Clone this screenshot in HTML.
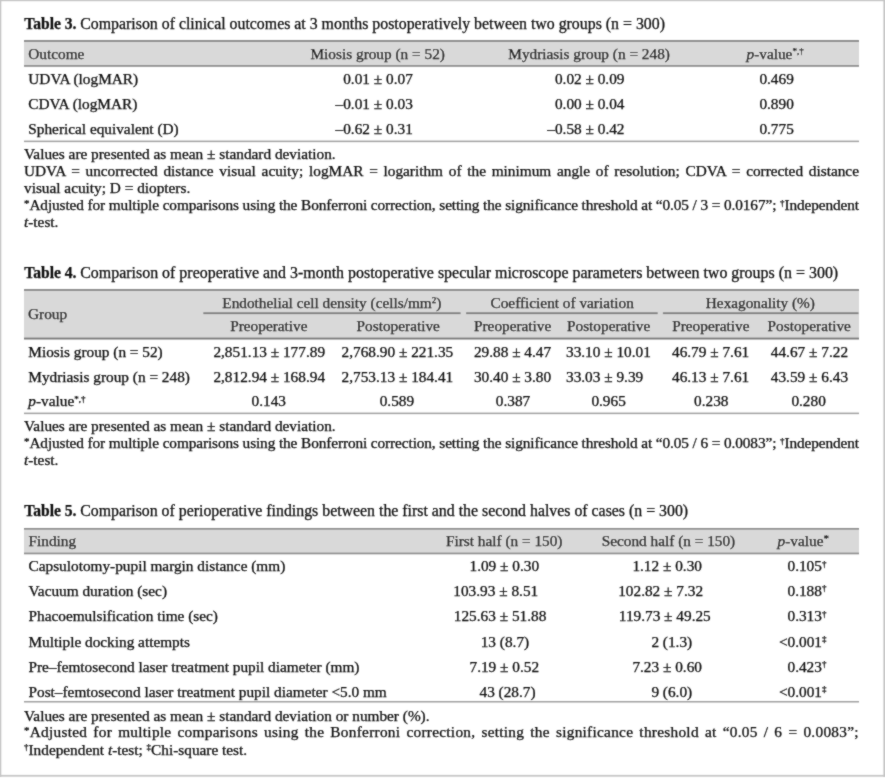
<!DOCTYPE html>
<html><head><meta charset="utf-8"><title>Tables</title>
<style>
html,body{margin:0;padding:0;background:#fff;}
body{width:885px;height:778px;overflow:hidden;}
svg{display:block;}
text{font-family:"Liberation Serif",serif;font-size:15.3px;fill:#0a0a0a;stroke:#0a0a0a;stroke-width:0.25px;}
#w{will-change:transform;}
</style></head><body>
<div id="w"><svg width="885" height="778" viewBox="0 0 885 778">
<defs><filter id="f" x="0" y="0" width="885" height="778" filterUnits="userSpaceOnUse"><feConvolveMatrix order="3" kernelMatrix="1 2 1 2 16 2 1 2 1" edgeMode="duplicate"/></filter></defs>
<g filter="url(#f)">
<rect x="0" y="0" width="885" height="1.2" fill="#c6c6c6"/>
<rect x="0" y="0" width="1.3" height="777" fill="#c6c6c6"/>
<rect x="883.4" y="0" width="1.6" height="777" fill="#c6c6c6"/>
<rect x="0" y="774.9" width="885" height="1.8" fill="#c6c6c6"/>
<text x="24.2" y="28.6" style="font-size:17.2px" textLength="52.3" lengthAdjust="spacingAndGlyphs"><tspan font-weight="bold">Table 3.</tspan></text>
<text x="80.2" y="28.6" style="font-size:17.2px" textLength="584.8" lengthAdjust="spacingAndGlyphs"><tspan>Comparison of clinical outcomes at 3 months postoperatively between two groups (n = 300)</tspan></text>
<rect x="24" y="42" width="835" height="23" fill="#d9d9d9"/>
<rect x="24" y="40" width="835" height="2" fill="#8f8f8f"/>
<rect x="24" y="65" width="835" height="1.8" fill="#8f8f8f"/>
<text x="28.3" y="58.7"><tspan>Outcome</tspan></text>
<text x="310.5" y="58.7"><tspan>Miosis group (n = 52)</tspan></text>
<text x="508.3" y="58.7"><tspan>Mydriasis group (n = 248)</tspan></text>
<text x="746.5" y="58.7"><tspan font-style="italic">p</tspan><tspan>-value</tspan><tspan font-size="9" dy="-4.5">*,†</tspan></text>
<text x="28.3" y="84.1"><tspan>UDVA (logMAR)</tspan></text>
<text x="412.8" y="84.1" text-anchor="end"><tspan>0.01 ± 0.07</tspan></text>
<text x="624.5" y="84.1" text-anchor="end"><tspan>0.02 ± 0.09</tspan></text>
<text x="759.4" y="84.1"><tspan>0.469</tspan></text>
<text x="28.3" y="108.9"><tspan>CDVA (logMAR)</tspan></text>
<text x="412.8" y="108.9" text-anchor="end"><tspan>–0.01 ± 0.03</tspan></text>
<text x="624.5" y="108.9" text-anchor="end"><tspan>0.00 ± 0.04</tspan></text>
<text x="759.4" y="108.9"><tspan>0.890</tspan></text>
<text x="28.3" y="133.6"><tspan>Spherical equivalent (D)</tspan></text>
<text x="412.8" y="133.6" text-anchor="end"><tspan>–0.62 ± 0.31</tspan></text>
<text x="624.5" y="133.6" text-anchor="end"><tspan>–0.58 ± 0.42</tspan></text>
<text x="759.4" y="133.6"><tspan>0.775</tspan></text>
<rect x="24" y="140.6" width="835" height="1.5" fill="#a0a0a0"/>
<text x="24" y="158.9"><tspan>Values are presented as mean ± standard deviation.</tspan></text>
<text x="24" y="175.6" word-spacing="1.93px"><tspan>UDVA = uncorrected distance visual acuity; logMAR = logarithm of the minimum angle of resolution; CDVA = corrected distance</tspan></text>
<text x="24" y="193.2"><tspan>visual acuity; D = diopters.</tspan></text>
<text x="24" y="210.4" textLength="835" lengthAdjust="spacing"><tspan font-size="11" dy="-3.5">*</tspan><tspan dy="3.5">Adjusted for multiple comparisons using the Bonferroni correction, setting the significance threshold at “0.05 / 3 = 0.0167”; </tspan><tspan font-size="9" dy="-4.5">†</tspan><tspan dy="4.5">Independent</tspan></text>
<text x="24" y="227.4"><tspan font-style="italic">t</tspan><tspan>-test.</tspan></text>
<text x="24.2" y="277.7" style="font-size:17.2px" textLength="52.3" lengthAdjust="spacingAndGlyphs"><tspan font-weight="bold">Table 4.</tspan></text>
<text x="80.2" y="277.7" style="font-size:17.2px" textLength="758.0" lengthAdjust="spacingAndGlyphs"><tspan>Comparison of preoperative and 3-month postoperative specular microscope parameters between two groups (n = 300)</tspan></text>
<rect x="24" y="291" width="835" height="46.5" fill="#d9d9d9"/>
<rect x="24" y="289" width="835" height="2" fill="#8f8f8f"/>
<rect x="24" y="337.5" width="835" height="2" fill="#7a7a7a"/>
<rect x="203.3" y="312.3" width="257.3" height="1.8" fill="#7a7a7a"/>
<rect x="466.1" y="312.3" width="191.60000000000002" height="1.8" fill="#7a7a7a"/>
<rect x="662.9" y="312.3" width="195.60000000000002" height="1.8" fill="#7a7a7a"/>
<text x="28" y="319"><tspan>Group</tspan></text>
<text x="222.3" y="307.6"><tspan>Endothelial cell density (cells/mm</tspan><tspan font-size="9" dy="-4.5">2</tspan><tspan dy="4.5">)</tspan></text>
<text x="490.5" y="307.6"><tspan>Coefficient of variation</tspan></text>
<text x="705.8" y="307.6"><tspan>Hexagonality (%)</tspan></text>
<text x="230.2" y="331.3"><tspan>Preoperative</tspan></text>
<text x="474.0" y="331.3"><tspan>Preoperative</tspan></text>
<text x="672.2" y="331.3"><tspan>Preoperative</tspan></text>
<text x="356.6" y="331.3"><tspan>Postoperative</tspan></text>
<text x="567.0" y="331.3"><tspan>Postoperative</tspan></text>
<text x="767.6" y="331.3"><tspan>Postoperative</tspan></text>
<text x="28.3" y="356.5"><tspan>Miosis group (n = 52)</tspan></text>
<text x="28.3" y="381.6"><tspan>Mydriasis group (n = 248)</tspan></text>
<text x="28.3" y="406.4"><tspan font-style="italic">p</tspan><tspan>-value</tspan><tspan font-size="9" dy="-4.5">*,†</tspan></text>
<text x="213.4" y="356.5"><tspan>2,851.13 ± 177.89</tspan></text>
<text x="341.6" y="356.5"><tspan>2,768.90 ± 221.35</tspan></text>
<text x="473.9" y="356.5"><tspan>29.88 ± 4.47</tspan></text>
<text x="566.0" y="356.5"><tspan>33.10 ± 10.01</tspan></text>
<text x="672.0" y="356.5"><tspan>46.79 ± 7.61</tspan></text>
<text x="770.8" y="356.5"><tspan>44.67 ± 7.22</tspan></text>
<text x="213.4" y="381.6"><tspan>2,812.94 ± 168.94</tspan></text>
<text x="341.6" y="381.6"><tspan>2,753.13 ± 184.41</tspan></text>
<text x="473.9" y="381.6"><tspan>30.40 ± 3.80</tspan></text>
<text x="566.0" y="381.6"><tspan>33.03 ± 9.39</tspan></text>
<text x="672.0" y="381.6"><tspan>46.13 ± 7.61</tspan></text>
<text x="770.8" y="381.6"><tspan>43.59 ± 6.43</tspan></text>
<text x="251.6" y="406.4"><tspan>0.143</tspan></text>
<text x="379.7" y="406.4"><tspan>0.589</tspan></text>
<text x="495.8" y="406.4"><tspan>0.387</tspan></text>
<text x="591.4" y="406.4"><tspan>0.965</tspan></text>
<text x="694.1" y="406.4"><tspan>0.238</tspan></text>
<text x="791.4" y="406.4"><tspan>0.280</tspan></text>
<rect x="24" y="412.6" width="835" height="1.5" fill="#a0a0a0"/>
<text x="24" y="431.1"><tspan>Values are presented as mean ± standard deviation.</tspan></text>
<text x="24" y="448.2" textLength="835" lengthAdjust="spacing"><tspan font-size="11" dy="-3.5">*</tspan><tspan dy="3.5">Adjusted for multiple comparisons using the Bonferroni correction, setting the significance threshold at “0.05 / 6 = 0.0083”; </tspan><tspan font-size="9" dy="-4.5">†</tspan><tspan dy="4.5">Independent</tspan></text>
<text x="24" y="464.9"><tspan font-style="italic">t</tspan><tspan>-test.</tspan></text>
<text x="24.2" y="516.1" style="font-size:17.2px" textLength="52.3" lengthAdjust="spacingAndGlyphs"><tspan font-weight="bold">Table 5.</tspan></text>
<text x="80.2" y="516.1" style="font-size:17.2px" textLength="607.9" lengthAdjust="spacingAndGlyphs"><tspan>Comparison of perioperative findings between the first and the second halves of cases (n = 300)</tspan></text>
<rect x="24" y="529.8" width="835" height="22.8" fill="#d9d9d9"/>
<rect x="24" y="528" width="835" height="1.8" fill="#8f8f8f"/>
<rect x="24" y="552.5" width="835" height="1.8" fill="#8f8f8f"/>
<text x="28.5" y="545.9"><tspan>Finding</tspan></text>
<text x="445.9" y="545.9"><tspan>First half (n = 150)</tspan></text>
<text x="601.7" y="545.9"><tspan>Second half (n = 150)</tspan></text>
<text x="777.6" y="545.9"><tspan font-style="italic">p</tspan><tspan>-value</tspan><tspan font-size="11" dy="-3.5">*</tspan></text>
<text x="28.5" y="571.0"><tspan>Capsulotomy-pupil margin distance (mm)</tspan></text>
<text x="469.5" y="571.0"><tspan>1.09 ± 0.30</tspan></text>
<text x="632.4" y="571.0"><tspan>1.12 ± 0.30</tspan></text>
<text x="787.5" y="571.0"><tspan>0.105</tspan><tspan font-size="9" dy="-4.5">†</tspan></text>
<text x="28.5" y="595.5"><tspan>Vacuum duration (sec)</tspan></text>
<text x="453.3" y="595.5"><tspan>103.93 ± 8.51</tspan></text>
<text x="618.2" y="595.5"><tspan>102.82 ± 7.32</tspan></text>
<text x="787.5" y="595.5"><tspan>0.188</tspan><tspan font-size="9" dy="-4.5">†</tspan></text>
<text x="28.5" y="621.4"><tspan>Phacoemulsification time (sec)</tspan></text>
<text x="453.8" y="621.4"><tspan>125.63 ± 51.88</tspan></text>
<text x="618.8" y="621.4"><tspan>119.73 ± 49.25</tspan></text>
<text x="787.5" y="621.4"><tspan>0.313</tspan><tspan font-size="9" dy="-4.5">†</tspan></text>
<text x="28.5" y="646.9"><tspan>Multiple docking attempts</tspan></text>
<text x="480.7" y="646.9"><tspan>13 (8.7)</tspan></text>
<text x="651.4" y="646.9"><tspan>2 (1.3)</tspan></text>
<text x="778.9" y="646.9"><tspan>&lt;0.001</tspan><tspan font-size="9" dy="-4.5">‡</tspan></text>
<text x="28.5" y="671.8"><tspan>Pre–femtosecond laser treatment pupil diameter (mm)</tspan></text>
<text x="469.5" y="671.8"><tspan>7.19 ± 0.52</tspan></text>
<text x="632.4" y="671.8"><tspan>7.23 ± 0.60</tspan></text>
<text x="787.5" y="671.8"><tspan>0.423</tspan><tspan font-size="9" dy="-4.5">†</tspan></text>
<text x="28.5" y="696.8"><tspan>Post–femtosecond laser treatment pupil diameter &lt;5.0 mm</tspan></text>
<text x="479.5" y="696.8"><tspan>43 (28.7)</tspan></text>
<text x="651.4" y="696.8"><tspan>9 (6.0)</tspan></text>
<text x="778.9" y="696.8"><tspan>&lt;0.001</tspan><tspan font-size="9" dy="-4.5">‡</tspan></text>
<rect x="24" y="701" width="835" height="1.5" fill="#a0a0a0"/>
<text x="24" y="720.6"><tspan>Values are presented as mean ± standard deviation or number (%).</tspan></text>
<text x="24" y="737.1" textLength="834.5" lengthAdjust="spacing" word-spacing="2.0px"><tspan font-size="11" dy="-3.5">*</tspan><tspan dy="3.5">Adjusted for multiple comparisons using the Bonferroni correction, setting the significance threshold at “0.05 / 6 = 0.0083”;</tspan></text>
<text x="24" y="754.7"><tspan font-size="9" dy="-4.5">†</tspan><tspan dy="4.5">Independent </tspan><tspan font-style="italic">t</tspan><tspan>-test; </tspan><tspan font-size="9" dy="-4.5">‡</tspan><tspan dy="4.5">Chi-square test.</tspan></text>
</g>
</svg></div>
</body></html>
